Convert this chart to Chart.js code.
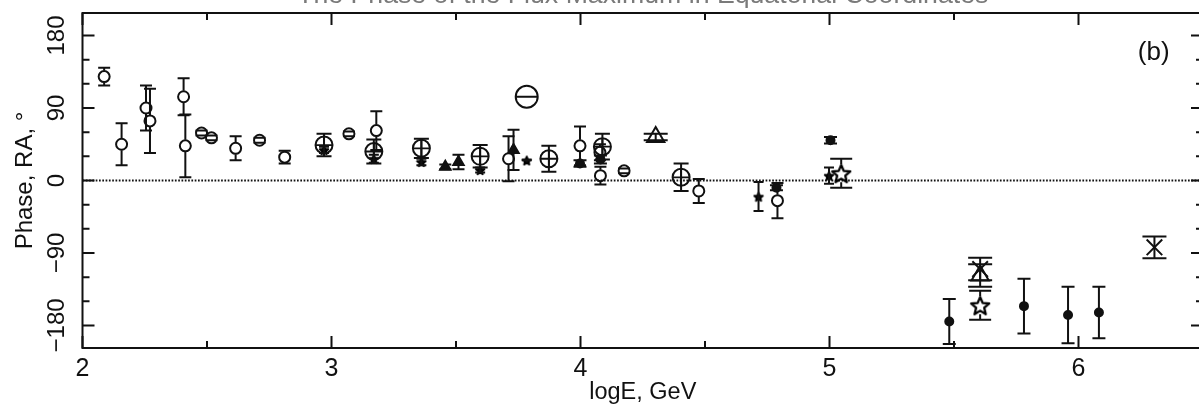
<!DOCTYPE html>
<html>
<head>
<meta charset="utf-8">
<script src="https://cdn.jsdelivr.net/npm/chart.js@4.4.1/dist/chart.umd.min.js"></script>
<style>
  html, body { margin: 0; padding: 0; background: #fff; overflow: hidden; width: 1199px; height: 407px; }
  #wrap { position: absolute; left: 0; top: 0; width: 1216px; height: 407px; }
</style>
</head>
<body>
<div id="wrap"><canvas id="c" width="1216" height="407"></canvas></div>
<script>
// ---- axis ranges and tick labels ----
const xRange = [2, 6.5];
const yRange = [-208, 208];
const xTickValues = [2, 3, 4, 5, 6];
const xTickLabels = ['2', '3', '4', '5', '6'];
const yTickValues = [-180, -90, 0, 90, 180];
const yTickLabels = ['\u2212180', '\u221290', '0', '90', '180'];
const titleText = 'The Phase of the Flux Maximum in Equatorial Coordinates';
const panelTag = '(b)';

// ---- measurements: logE (GeV), RA phase (deg), phase error (deg) ----
const openCircleX   = [2.087, 2.157, 2.255, 2.271, 2.406, 2.413, 2.478, 2.518, 2.615, 2.711, 2.812, 3.070, 3.180, 3.711, 3.998, 4.078, 4.080, 4.175, 4.475, 4.791];
const openCircleY   = [129, 45, 90, 74, 104, 43, 59, 53, 40, 50, 29, 58, 62, 27, 43, 35, 6, 12, -13, -25];
const openCircleErr = [11, 26, 28, 40, 23, 39, 3, 3, 15, 3, 8, 3, 24, 28, 24, 10, 11, 3, 15, 22];

const crossCircleX   = [2.970, 3.170, 3.361, 3.597, 3.873, 4.088, 4.404];
const crossCircleY   = [44, 36, 40, 30, 27, 42, 4];
const crossCircleErr = [14, 15, 12, 14, 16, 16, 17];

const filledStarX   = [2.970, 3.170, 3.361, 3.597, 3.784, 4.715, 4.998];
const filledStarY   = [38, 27, 23, 13, 25, -20, 6];
const filledStarErr = [4, 5, 4, 3, 0, 18, 10];

const filledTriangleX   = [3.457, 3.510, 3.731];
const filledTriangleY   = [17, 23, 38];
const filledTriangleErr = [3, 9, 25];

const filledDotX   = [3.998, 4.080, 4.787, 5.004, 5.481, 5.781, 5.958, 6.082];
const filledDotY   = [21, 26, -9, 50, -175, -156, -167, -164];
const filledDotErr = [4, 5, 3, 4, 28, 34, 35, 32];

const openTriangleX   = [4.302, 5.605];
const openTriangleY   = [54, -118];
const openTriangleErr = [4, 14];

const openStarX   = [5.047, 5.605];
const openStarY   = [9, -155];
const openStarErr = [18, 18];

const xMarkX   = [5.605, 6.305];
const xMarkY   = [-110, -83];
const xMarkErr = [14, 13.5];

const bigCircleX   = [3.784];
const bigCircleY   = [104];
const bigCircleErr = [0];

const pts = (xs, ys) => xs.map((x, i) => ({ x, y: ys[i] }));
const INK = '#111';
const FONT = '"Liberation Sans", Arial, sans-serif';

// five-pointed star marker drawn onto a small canvas
function starImage(size, filled) {
  const c = document.createElement('canvas');
  c.width = c.height = size;
  const g = c.getContext('2d');
  const cx = size / 2, cy = size / 2 + size * 0.05, R = size / 2 - 1.5, r = R * 0.45;
  g.beginPath();
  for (let i = 0; i < 10; i++) {
    const a = -Math.PI / 2 + i * Math.PI / 5;
    const rr = i % 2 ? r : R;
    g.lineTo(cx + rr * Math.cos(a), cy + rr * Math.sin(a));
  }
  g.closePath();
  if (filled) { g.fillStyle = INK; g.fill(); }
  g.lineJoin = 'round';
  g.lineWidth = filled ? 1.8 : 2.3;
  g.strokeStyle = '#000';
  g.stroke();
  return c;
}

// vertical error bars with caps, leaving a gap round open markers
const errorBars = {
  id: 'errorBars',
  afterDatasetsDraw(chart) {
    const { ctx, scales: { x: xs, y: ys } } = chart;
    ctx.save();
    ctx.strokeStyle = INK;
    ctx.lineWidth = 2;
    chart.data.datasets.forEach(ds => {
      if (!ds.yErr) return;
      const h = ds.capHalf || 6, gap = ds.gap || 0;
      ds.data.forEach((p, j) => {
        const e = ds.yErr[j];
        const px = xs.getPixelForValue(p.x);
        const py = ys.getPixelForValue(p.y);
        const top = ys.getPixelForValue(p.y + e);
        const bot = ys.getPixelForValue(p.y - e);
        ctx.beginPath();
        if (py - top > gap) {
          ctx.moveTo(px, top); ctx.lineTo(px, py - gap);
          ctx.moveTo(px, py + gap); ctx.lineTo(px, bot);
        }
        ctx.moveTo(px - h, top); ctx.lineTo(px + h, top);
        ctx.moveTo(px - h, bot); ctx.lineTo(px + h, bot);
        ctx.stroke();
      });
    });
    ctx.restore();
  }
};

// boxed frame with inward ticks on all four sides, rotated y labels, title and panel tag
const frame = {
  id: 'frame',
  afterDraw(chart) {
    const { ctx, chartArea: a, scales: { x: xs, y: ys } } = chart;
    ctx.save();
    ctx.strokeStyle = INK;
    ctx.lineWidth = 2;
    ctx.strokeRect(a.left, a.top, a.right - a.left, a.bottom - a.top);
    ctx.beginPath();
    for (let v = xRange[0]; v <= xRange[1] + 1e-9; v += 0.5) {
      const px = xs.getPixelForValue(v);
      const len = Math.abs(v - Math.round(v)) < 1e-9 ? 12 : 7;
      ctx.moveTo(px, a.bottom); ctx.lineTo(px, a.bottom - len);
      ctx.moveTo(px, a.top); ctx.lineTo(px, a.top + len);
    }
    for (let v = -180; v <= 180; v += 30) {
      const py = ys.getPixelForValue(v);
      const len = v % 90 === 0 ? 12 : 7;
      ctx.moveTo(a.left, py); ctx.lineTo(a.left + len, py);
      ctx.moveTo(a.right, py); ctx.lineTo(a.right - len, py);
    }
    ctx.stroke();

    ctx.fillStyle = INK;
    ctx.font = '24px ' + FONT;
    ctx.textAlign = 'center';
    ctx.textBaseline = 'middle';
    yTickValues.forEach((v, i) => {
      ctx.save();
      ctx.translate(57, ys.getPixelForValue(v));
      ctx.rotate(-Math.PI / 2);
      ctx.fillText(yTickLabels[i], 0, 0);
      ctx.restore();
    });

    ctx.font = '26px ' + FONT;
    ctx.fillText(panelTag, xs.getPixelForValue(6.302), ys.getPixelForValue(158));

    ctx.fillStyle = '#7a7a7a';
    ctx.font = '26.7px ' + FONT;
    ctx.textBaseline = 'alphabetic';
    ctx.fillText(titleText, (a.left + a.right) / 2, 2.5);
    ctx.restore();
  }
};

const base = { showLine: false, borderColor: INK, pointBorderColor: INK, pointBorderWidth: 2 };

new Chart(document.getElementById('c'), {
  type: 'scatter',
  data: {
    datasets: [
      { ...base, label: 'open circles', data: pts(openCircleX, openCircleY), yErr: openCircleErr, gap: 6, capHalf: 6,
        pointStyle: 'circle', pointRadius: 5.5, pointBackgroundColor: 'rgba(0,0,0,0)' },
      { ...base, label: 'crossed circles', data: pts(crossCircleX, crossCircleY), yErr: crossCircleErr, gap: 0, capHalf: 7.5,
        pointStyle: 'circle', pointRadius: 8.5, pointBackgroundColor: 'rgba(0,0,0,0)' },
      { ...base, label: 'crossed circles (cross)', data: pts(crossCircleX, crossCircleY),
        pointStyle: 'cross', pointRadius: 8.5, pointBorderWidth: 1.8 },
      { ...base, label: 'filled stars', data: pts(filledStarX, filledStarY), yErr: filledStarErr, capHalf: 5,
        pointStyle: starImage(12, true), pointRadius: 5 },
      { ...base, label: 'filled triangles', data: pts(filledTriangleX, filledTriangleY), yErr: filledTriangleErr, capHalf: 6,
        pointStyle: 'triangle', pointRadius: 6, pointBackgroundColor: INK },
      { ...base, label: 'filled dots', data: pts(filledDotX, filledDotY), yErr: filledDotErr, capHalf: 6.5,
        pointStyle: 'circle', pointRadius: 4, pointBackgroundColor: INK },
      { ...base, label: 'open triangles', data: pts(openTriangleX, openTriangleY), yErr: openTriangleErr, capHalf: 12,
        pointStyle: 'triangle', pointRadius: 10, pointBackgroundColor: 'rgba(0,0,0,0)' },
      { ...base, label: 'open stars', data: pts(openStarX, openStarY), yErr: openStarErr, gap: 9, capHalf: 11,
        pointStyle: starImage(22, false), pointRadius: 5 },
      { ...base, label: 'crosses', data: pts(xMarkX, xMarkY), yErr: xMarkErr, capHalf: 12,
        pointStyle: 'crossRot', pointRadius: 11, pointBorderWidth: 2 },
      { ...base, label: 'large circle', data: pts(bigCircleX, bigCircleY), yErr: bigCircleErr, capHalf: 11,
        pointStyle: 'circle', pointRadius: 11, pointBackgroundColor: 'rgba(0,0,0,0)' },
      { type: 'line', label: 'zero', data: [{ x: xRange[0], y: 0 }, { x: xRange[1], y: 0 }],
        borderColor: INK, borderWidth: 1.8, borderDash: [1.7, 1.6], pointRadius: 0, order: 100 }
    ]
  },
  options: {
    responsive: false,
    animation: false,
    events: [],
    layout: { padding: { top: 10, right: 8.5, left: 0, bottom: 0 } },
    plugins: { legend: { display: false }, tooltip: { enabled: false } },
    scales: {
      x: {
        type: 'linear', min: xRange[0], max: xRange[1],
        afterFit: s => { s.height = 59; },
        afterBuildTicks: s => { s.ticks = xTickValues.map(v => ({ value: v })); },
        grid: { display: false, drawTicks: false },
        border: { display: false },
        ticks: {
          autoSkip: false, padding: 9, color: INK,
          font: { family: FONT, size: 25, lineHeight: 1 },
          callback: (v) => xTickLabels[xTickValues.indexOf(v)]
        },
        title: {
          display: true, text: 'logE, GeV', color: INK, padding: { top: 0, bottom: 0 },
          font: { family: FONT, size: 23.5, lineHeight: 1.2 }
        }
      },
      y: {
        type: 'linear', min: yRange[0], max: yRange[1],
        afterFit: s => { s.width = 82.5; },
        afterBuildTicks: s => { s.ticks = yTickValues.map(v => ({ value: v })); },
        grid: { display: false, drawTicks: false },
        border: { display: false },
        ticks: { display: false },
        title: {
          display: true, text: 'Phase, RA, \u00b0', color: INK, padding: { top: 10.5, bottom: 0 },
          font: { family: FONT, size: 24, lineHeight: 1.2 }
        }
      }
    }
  },
  plugins: [errorBars, frame]
});
</script>
</body>
</html>
